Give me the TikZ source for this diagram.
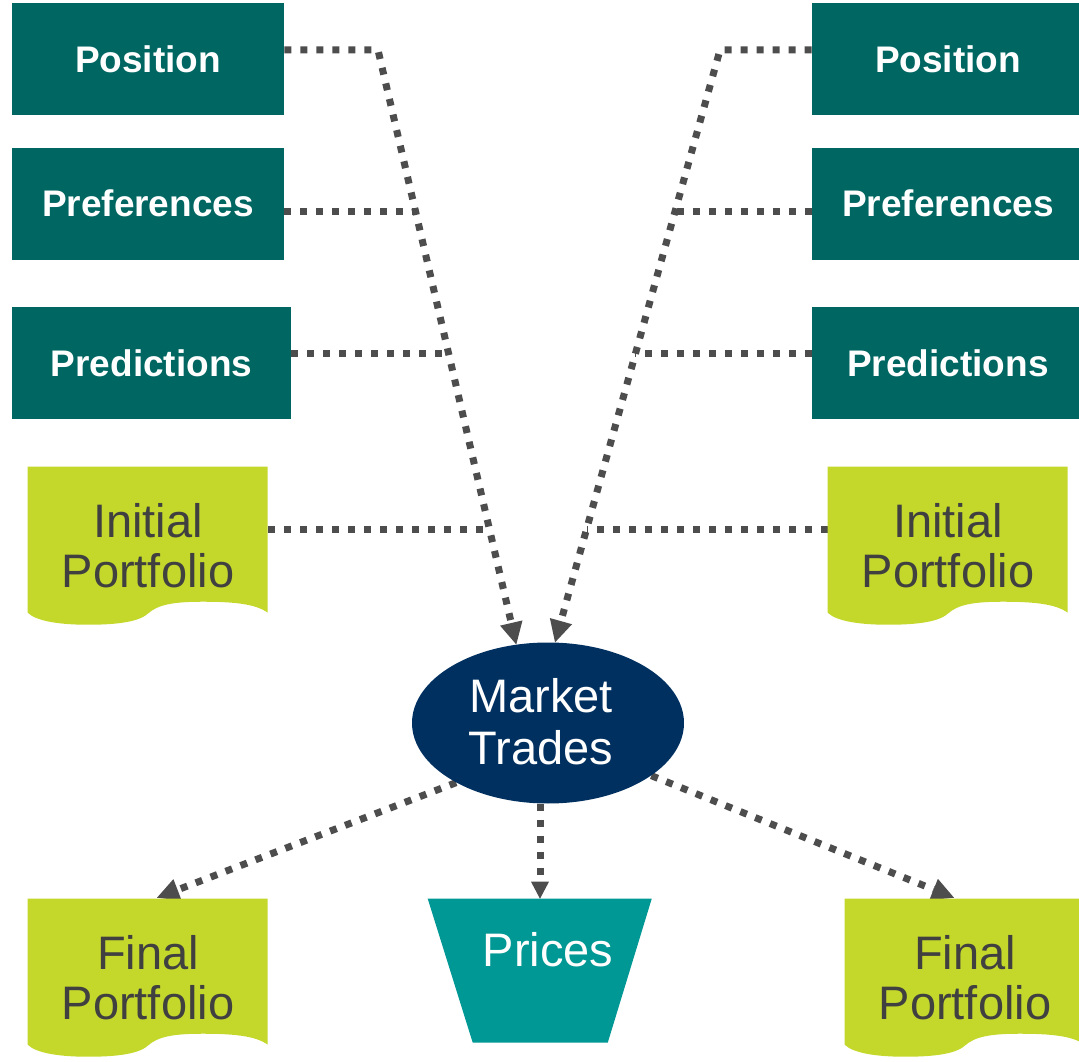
\documentclass[tikz,border=0pt]{standalone}
\usepackage{fontspec}
\setmainfont{Liberation Sans}
\usepackage{xcolor}
\usepackage{tikz}
\usetikzlibrary{positioning}
\usetikzlibrary{calc}
\usetikzlibrary{arrows.meta}
\usetikzlibrary{shapes.geometric}
\usetikzlibrary{backgrounds}
\definecolor{boxteal}{HTML}{006662}
\definecolor{doclime}{HTML}{C4D82C}
\definecolor{mtnavy}{HTML}{003060}
\definecolor{prteal}{HTML}{009894}
\definecolor{linegray}{HTML}{4D4D4D}
\definecolor{doctext}{HTML}{404040}
\tikzset{link/.style={draw=linegray, line width=5.25pt, dash pattern=on 5.25pt off 6.75pt}}
\tikzset{arr/.style={-{Triangle[length=16.5pt,width=17.25pt,line width=0pt]}}}
\tikzset{arrs/.style={-{Triangle[length=12.75pt,width=13.5pt,line width=0pt]}}}

% wavy document shape under a node
\newcommand{\docfill}[1]{%
  \fill[doclime, shift={(#1.north west)}] (0,0) -- (240,0) -- (240,146)
    .. controls (228,137) and (205,135) .. (175,135)
    .. controls (145,135) and (130,138) .. (120,147)
    .. controls (110,156) and (85,158) .. (60,158)
    .. controls (30,158) and (8,154) .. (0,146) -- cycle;}

\begin{document}
\begin{tikzpicture}
[
x=0.75pt, y=-0.75pt,
b/.style={rectangle, fill=boxteal, text=white, font=\fontsize{27.75}{30}\selectfont\bfseries, minimum width=204pt, minimum height=84pt, inner sep=0pt},
d/.style={rectangle, text=doctext, font=\fontsize{35.25}{37.5}\selectfont, align=center, minimum width=180pt, minimum height=118.5pt, inner sep=0pt},
e/.style={ellipse, fill=mtnavy, text=white, font=\fontsize{35.25}{37.5}\selectfont, align=center, minimum width=204pt, minimum height=120.75pt, inner sep=0pt},
p/.style={rectangle, text=white, font=\fontsize{35.25}{37.5}\selectfont, minimum width=168pt, minimum height=108pt, inner sep=0pt}
]
\useasboundingbox (0,0) rectangle (1079,1062);
\clip (0,0) rectangle (1079,1062);

\node[b] (posl) at (148,59) {Position};
\node[b] (prefl) [below=24pt of posl] {Preferences};
\node[b, minimum width=209.25pt] (predl) at (151.5,363) {Predictions};
\node[d] (ipl) at (148,546) {Initial\\Portfolio};

\node[b] (posr) at (948,59) {Position};
\node[b] (prefr) [below=24pt of posr] {Preferences};
\node[b] (predr) at (948,363) {Predictions};
\node[d] (ipr) at (948,546) {Initial\\Portfolio};

\node[e] (mt) at (548,723) {\raisebox{1.5pt}[\height][\depth]{Market\kern10.5pt}\\Trades\kern10.5pt};

\node[d] (fpl) at (148,978) {Final\\Portfolio};
\node[p] (pr) at (540,971) {\raisebox{15.75pt}[\height][\depth]{\hspace*{12pt}Prices}};
\node[d] (fpr) at (965,978) {Final\\Portfolio};

\begin{pgfonlayer}{background}
\coordinate (lb) at (378,50);
\coordinate (rb) at (720,50);
\draw[link, arr] (posl.east |- lb) -- (lb) -- (mt.112);
\draw[link, arr] (posr.west |- rb) -- (rb) -- (mt.85);
\path (lb) -- (mt.112) coordinate[pos=0.271] (lj1) coordinate[pos=0.511] (lj2) coordinate[pos=0.807] (lj3);
\path (rb) -- (mt.85) coordinate[pos=0.272] (rj1) coordinate[pos=0.513] (rj2) coordinate[pos=0.809] (rj3);

\draw[link] (prefl.east |- lj1) -- (lj1);
\draw[link] (predl.east |- lj2) -- (lj2);
\draw[link] (ipl.east |- lj3) -- (lj3);
\draw[link] (prefr.west |- rj1) -- (rj1);
\draw[link] (predr.west |- rj2) -- (rj2);
\draw[link] (ipr.west |- rj3) -- (rj3);

\draw[link, arr] (mt.213) -- ($(fpl.north)+(9,-1)$);
\draw[link, arr] (mt.333) -- ($(fpr.north)+(-11,-1)$);
\draw[link, arrs] (mt.south -| pr.north) -- (pr.north);

\docfill{ipl}
\docfill{ipr}
\docfill{fpl}
\docfill{fpr}
% prices funnel
\fill[prteal, shift={(pr.north west)}] (0,0) -- (224,0) -- (180,144) -- (45,144) -- cycle;
\end{pgfonlayer}
\end{tikzpicture}
\end{document}
